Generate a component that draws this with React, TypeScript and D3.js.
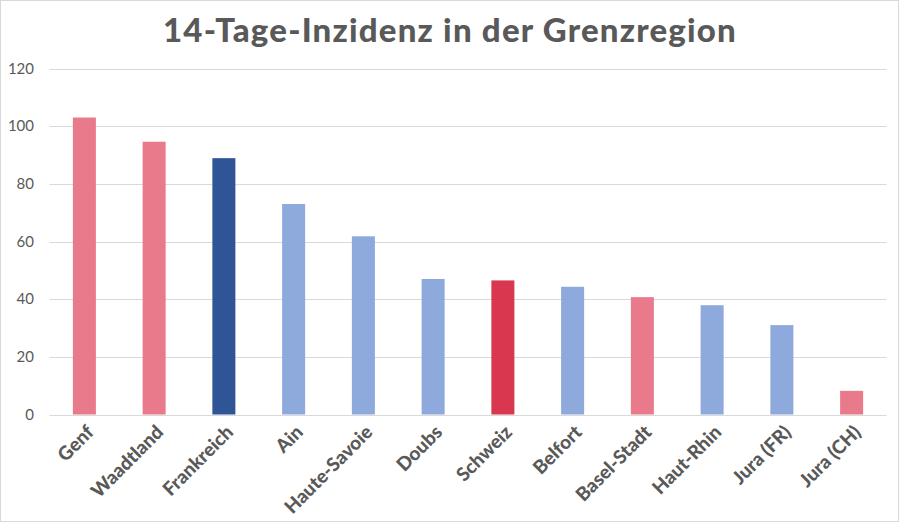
import React, { useEffect, useRef } from "react";
import * as d3 from "d3";

const categories = ["Genf", "Waadtland", "Frankreich", "Ain", "Haute-Savoie", "Doubs", "Schweiz", "Belfort", "Basel-Stadt", "Haut-Rhin", "Jura (FR)", "Jura (CH)"];
const values = [103, 94.6, 88.9, 73, 61.8, 47, 46.5, 44.3, 40.7, 37.9, 31, 8.2];
const groups = ["ch", "ch", "fr-total", "fr", "fr", "fr", "ch-total", "fr", "ch", "fr", "fr", "ch"];
const yTicks = [0, 20, 40, 60, 80, 100, 120];
const title = "14-Tage-Inzidenz in der Grenzregion";

const colorMap: Record<string, string> = {
  ch: "#E97A8B",
  "ch-total": "#D8374F",
  fr: "#8EA9DB",
  "fr-total": "#2F5597",
};

const W = 900;
const H = 523;

export default function App() {
  const ref = useRef<SVGSVGElement>(null);
  useEffect(() => {
    const svg = d3.select(ref.current);
    svg.selectAll("*").remove();
    const x = d3.scaleBand<string>().domain(categories).range([49.5, 886.5]).paddingInner(0.67).paddingOuter(0.335);
    const y = d3.scaleLinear().domain([0, 120]).range([414.5, 68.5]);

    svg.append("rect").attr("x", 0.5).attr("y", 0.5).attr("width", W - 2).attr("height", H - 2)
      .attr("fill", "#fff").attr("stroke", "#d9d9d9").attr("stroke-width", 1);

    svg.append("text").attr("x", 450).attr("y", 42).attr("text-anchor", "middle")
      .attr("font-family", "Lato, sans-serif").attr("font-weight", 900).attr("font-size", 33)
      .attr("letter-spacing", 1.2)
      .attr("fill", "#595959").text(title);

    const grid = svg.append("g");
    grid.selectAll("line").data(yTicks).join("line")
      .attr("x1", 49.5).attr("x2", 886.5)
      .attr("y1", (d) => Math.round(y(d)) + 0.5).attr("y2", (d) => Math.round(y(d)) + 0.5)
      .attr("stroke", "#d9d9d9").attr("stroke-width", 1);

    svg.append("g").selectAll("text").data(yTicks).join("text")
      .attr("x", 34).attr("y", (d) => y(d)).attr("dy", "0.35em").attr("text-anchor", "end")
      .attr("font-family", "Lato, sans-serif").attr("font-size", 15).attr("fill", "#595959")
      .text((d) => String(d));

    svg.append("g").selectAll("rect").data(categories).join("rect")
      .attr("x", (d) => x(d)!).attr("width", x.bandwidth())
      .attr("y", (_d, i) => y(values[i])).attr("height", (_d, i) => y(0) - y(values[i]))
      .attr("fill", (_d, i) => colorMap[groups[i]]);

    svg.append("g").selectAll("text").data(categories).join("text")
      .attr("transform", (d) => `translate(${x(d)! + x.bandwidth() / 2 + 1},${424}) rotate(-45)`)
      .attr("text-anchor", "end").attr("dy", "0.7em")
      .attr("font-family", "Lato, sans-serif").attr("font-weight", 900).attr("font-size", 19)
      .attr("fill", "#595959").text((d) => d);
  }, []);
  return (
    <div style={{ position: "absolute", left: 0, top: 0 }}>
      <svg ref={ref} width={W} height={H} style={{ display: "block" }} />
    </div>
  );
}
